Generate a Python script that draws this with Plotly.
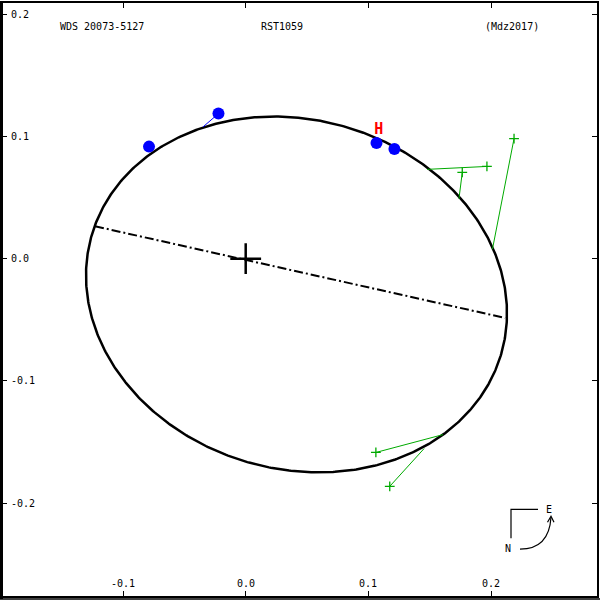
import numpy as np
import plotly.graph_objects as go

# ---- data (arcsec) ----
# apparent orbit ellipse: center, semi-axes, orientation (deg)
ell_cx, ell_cy = 0.0414, -0.0293
ell_a, ell_b = 0.1738, 0.1428
ell_ang = -16.3

# line of nodes endpoints
node_x = [-0.1228, 0.2114]
node_y = [0.0265, -0.0485]

# blue observations (filled circles) and their orbit positions
blue_x = [-0.0788, -0.0222, 0.1066, 0.1212]
blue_y = [0.0916, 0.1186, 0.0945, 0.0896]
blue_ox = [-0.0766, -0.0348, 0.1066, 0.1212]
blue_oy = [0.0938, 0.1077, 0.0970, 0.0896]

# Hipparcos
hip_x = [0.1084]
hip_y = [0.1047]

# green micrometer measures and their orbit positions
grn_x = [0.2187, 0.1966, 0.1765, 0.1061, 0.1174]
grn_y = [0.0982, 0.0754, 0.0705, -0.1585, -0.1862]
grn_ox = [0.2011, 0.1478, 0.1738, 0.1608, 0.1454]
grn_oy = [0.0077, 0.0730, 0.0489, -0.1439, -0.1553]

xticks = [-0.2, -0.1, 0.0, 0.1, 0.2]
xtick_text = ["-0.2", "-0.1", "0.0", "0.1", "0.2"]
yticks = [0.2, 0.1, 0.0, -0.1, -0.2]
ytick_text = ["0.2", "0.1", "0.0", "-0.1", "-0.2"]

title_left = "WDS 20073-5127"
title_mid = "RST1059"
title_right = "(Mdz2017)"

# ---- build ----
t = np.linspace(0, 2 * np.pi, 721)
th = np.radians(ell_ang)
ex = ell_cx + ell_a * np.cos(t) * np.cos(th) - ell_b * np.sin(t) * np.sin(th)
ey = ell_cy + ell_a * np.cos(t) * np.sin(th) + ell_b * np.sin(t) * np.cos(th)

FONT = "DejaVu Sans Mono"
fig = go.Figure()

fig.add_trace(go.Scatter(x=ex, y=ey, mode="lines",
                         line=dict(color="black", width=2.5), hoverinfo="skip"))
fig.add_trace(go.Scatter(x=node_x, y=node_y, mode="lines",
                         line=dict(color="black", width=2, dash="9px,3px,2px,3px"),
                         hoverinfo="skip"))

# O-C lines
for x0, y0, x1, y1 in zip(blue_x, blue_y, blue_ox, blue_oy):
    fig.add_trace(go.Scatter(x=[x0, x1], y=[y0, y1], mode="lines",
                             line=dict(color="blue", width=1), hoverinfo="skip"))
for x0, y0, x1, y1 in zip(grn_x, grn_y, grn_ox, grn_oy):
    fig.add_trace(go.Scatter(x=[x0, x1], y=[y0, y1], mode="lines",
                             line=dict(color="#00aa00", width=1), hoverinfo="skip"))

fig.add_trace(go.Scatter(x=grn_x, y=grn_y, mode="markers",
                         marker=dict(symbol="cross-thin", size=7,
                                     line=dict(color="#00aa00", width=1.3))))
fig.add_trace(go.Scatter(x=blue_x, y=blue_y, mode="markers",
                         marker=dict(symbol="circle", size=12, color="blue",
                                     line=dict(width=0))))
fig.add_trace(go.Scatter(x=hip_x, y=hip_y, mode="text", text=["<b>H</b>"],
                         textfont=dict(family=FONT, size=15, color="red"),
                         textposition="middle center"))
# primary star
fig.add_trace(go.Scatter(x=[0], y=[0], mode="markers",
                         marker=dict(symbol="cross-thin", size=22,
                                     line=dict(color="black", width=2.5))))

# plot area: x 2..597 px, y 1..596 px
X0, S = 245.7, 1227.0
Y0 = 257.5
xr = [(2 - X0) / S, (597 - X0) / S]
yr = [(Y0 - 596) / S, (Y0 - 1) / S]

def px(p):
    return (p - 2) / 595.0

def py(p):
    return (596 - p) / 595.0

axis_common = dict(showgrid=False, zeroline=False, showline=True, linecolor="black",
                   linewidth=2, mirror="ticks", ticks="inside", ticklen=5,
                   tickwidth=1, tickcolor="black", showticklabels=False)

fig.update_layout(
    width=600, height=600,
    margin=dict(l=2, r=3, t=1, b=4),
    paper_bgcolor="white", plot_bgcolor="white",
    showlegend=False,
    xaxis=dict(range=xr, tickvals=xticks, **axis_common),
    yaxis=dict(range=yr, tickvals=yticks, **axis_common),
)

ann = []
for v, s in zip(xticks, xtick_text):
    ann.append(dict(x=v, y=py(583), xref="x", yref="paper", text=s, showarrow=False,
                    xanchor="center", yanchor="middle",
                    font=dict(family=FONT, size=10, color="black")))
for v, s in zip(yticks, ytick_text):
    ann.append(dict(x=px(9), y=v, xref="paper", yref="y", text=s, showarrow=False,
                    xanchor="left", yanchor="middle",
                    font=dict(family=FONT, size=10, color="black")))
for xx, s in [(101.5, title_left), (281.5, title_mid), (512.3, title_right)]:
    ann.append(dict(x=px(xx), y=py(24.5), xref="paper", yref="paper", text=s,
                    showarrow=False, xanchor="center", yanchor="middle",
                    font=dict(family=FONT, size=10, color="black")))
# compass labels
ann.append(dict(x=px(549), y=py(509), xref="paper", yref="paper", text="E",
                showarrow=False, xanchor="center", yanchor="middle",
                font=dict(family=FONT, size=10, color="black")))
ann.append(dict(x=px(508), y=py(548), xref="paper", yref="paper", text="N",
                showarrow=False, xanchor="center", yanchor="middle",
                font=dict(family=FONT, size=10, color="black")))
fig.update_layout(annotations=ann)

shapes = []
# thicker left border and extra bottom line
shapes.append(dict(type="line", xref="paper", yref="paper", x0=px(1.5), x1=px(1.5),
                   y0=py(0), y1=py(599), line=dict(color="black", width=3)))
shapes.append(dict(type="line", xref="paper", yref="paper", x0=px(0), x1=px(600),
                   y0=py(599), y1=py(599), line=dict(color="black", width=1.5)))
# compass
shapes.append(dict(type="path", xref="paper", yref="paper",
                   path=f"M {px(511)},{py(538)} L {px(511)},{py(509)} L {px(538)},{py(509)}",
                   line=dict(color="black", width=1.2)))
shapes.append(dict(type="path", xref="paper", yref="paper",
                   path=f"M {px(520)},{py(549)} Q {px(549)},{py(549)} {px(551)},{py(517)}",
                   line=dict(color="black", width=1.2)))
shapes.append(dict(type="path", xref="paper", yref="paper",
                   path=f"M {px(547.5)},{py(522)} L {px(551)},{py(516)} L {px(554)},{py(522)}",
                   line=dict(color="black", width=1.2)))
fig.update_layout(shapes=shapes)

fig.write_html("out.html")
